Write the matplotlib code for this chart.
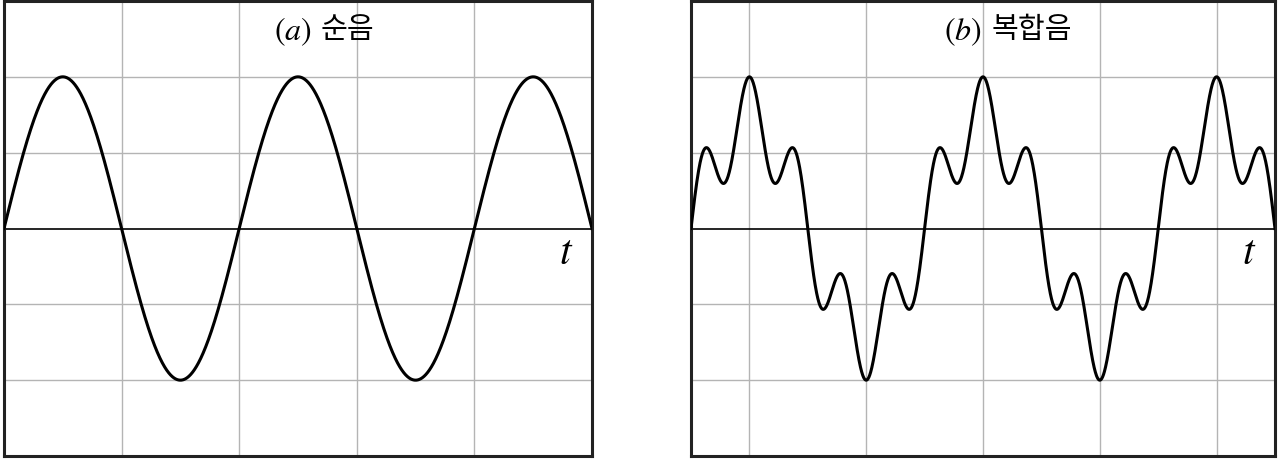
import numpy as np
import matplotlib.pyplot as plt

plt.rcParams['mathtext.fontset'] = 'stix'

# harmonic numbers and amplitudes (in grid rows) of each tone
pure_harmonics = [1]
pure_amps = [2.0]
complex_harmonics = [1, 5]
complex_amps = [1.45, 0.55]

n_cols = 5            # time span, in grid columns (one column = half period)
y_lim = (-3, 3)
y_grid = [-2, -1, 1, 2]
x_grid_a = [1, 2, 3, 4]
x_grid_b = [0.5, 1.5, 2.5, 3.5, 4.5]

labels = ['$(a)$', '$(b)$']
names = ['순음', '복합음']
label_x = [0.523, 0.498]
name_x = [0.538, 0.514]

def tone(u, harm, amps):
    y = np.zeros_like(u)
    for k, a in zip(harm, amps):
        y += a*np.sin(k*np.pi*u)
    return y

fig = plt.figure(figsize=(12.8, 4.6), dpi=100)
ax1 = fig.add_axes([4/1280., 3/460., 588/1280., 455/460.])
ax2 = fig.add_axes([691/1280., 3/460., 584/1280., 455/460.])

u = np.linspace(0, n_cols, 2000)
panels = [(ax1, pure_harmonics, pure_amps, x_grid_a),
          (ax2, complex_harmonics, complex_amps, x_grid_b)]

for i, (ax, harm, amps, xg) in enumerate(panels):
    for x in xg:
        ax.axvline(x, color='#b4b4b4', lw=1.0, zorder=1)
    for y in y_grid:
        ax.axhline(y, color='#b4b4b4', lw=1.0, zorder=1)
    ax.axhline(0, color='black', lw=1.2, zorder=2)
    ax.plot(u, tone(u, harm, amps), color='black', lw=2.2, zorder=3)
    ax.set_xlim(0, n_cols)
    ax.set_ylim(*y_lim)
    ax.set_xticks([])
    ax.set_yticks([])
    for s in ax.spines.values():
        s.set_linewidth(2.2)
        s.set_color('#222222')
    ax.text(label_x[i], 0.935, labels[i], transform=ax.transAxes, fontsize=23,
            ha='right', va='center')
    ax.text(name_x[i], 0.938, names[i], transform=ax.transAxes, fontsize=21,
            ha='left', va='center', family=['Noto Sans CJK KR', 'DejaVu Sans'])
    ax.text(0.956, 0.45, '$t$', transform=ax.transAxes, fontsize=30,
            ha='center', va='center')

fig.savefig('out.png', dpi=100)
